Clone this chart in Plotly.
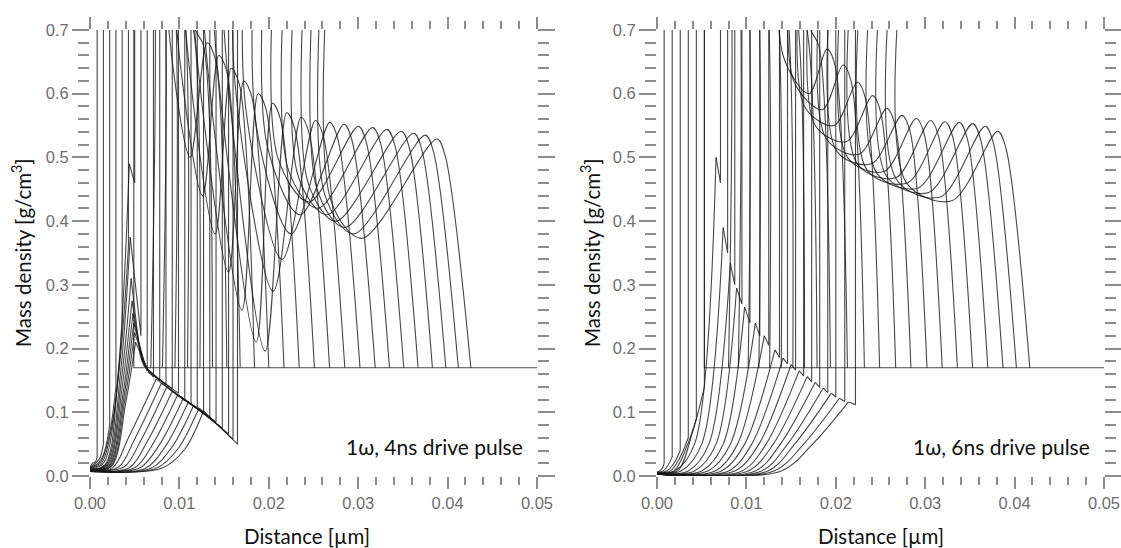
import plotly.graph_objects as go

# ================= DATA =================
# Left panel: 1ω, 4ns drive pulse  (24 time snapshots)
L_x_init = 0.0049          # initial foam interface
L_y_foam = 0.17            # undisturbed foam density
L_y0 = [0.014,0.013,0.013,0.012,0.012,0.011,0.011,0.010,0.010,0.010,0.009,0.009,
        0.009,0.009,0.008,0.008,0.008,0.008,0.008,0.008,0.007,0.007,0.007,0.007]
L_xr = [0.0003,0.0006,0.0009,0.0011,0.0013,0.0015,0.0017,0.0018,0.0019,0.0020,0.0021,0.0022,
        0.0023,0.0024,0.0026,0.0032,0.0038,0.0044,0.0050,0.0056,0.0062,0.0068,0.0074,0.0080]
L_yr = [0.020,0.020,0.020,0.020,0.020,0.020,0.018,0.018,0.017,0.017,0.016,0.016,
        0.015,0.015,0.014,0.014,0.014,0.013,0.013,0.013,0.012,0.012,0.012,0.012]
L_xm = [0.0006,0.0011,0.0016,0.0021,0.0027,0.0032,0.0032,0.0034,0.0035,0.0036,0.0037,0.0038,
        0.0039,0.0040,0.0043,0.0050,0.0057,0.0064,0.0071,0.0078,0.0085,0.0092,0.0099,0.0106]
L_ym = [0.022,0.028,0.037,0.060,0.100,0.160,0.170,0.160,0.150,0.140,0.130,0.125,
        0.120,0.115,0.060,0.058,0.056,0.054,0.052,0.050,0.048,0.046,0.044,0.042]
L_xpk = [None]*6 + [0.0044,0.0045,0.0046,0.0047,0.0048,0.0049,0.0050,0.0051] + [None]*10
L_ypk = [None]*6 + [0.49,0.375,0.31,0.275,0.255,0.24,0.225,0.21] + [None]*10
L_xn = [None]*8 + [0.0056,0.0058,0.0060,0.0062,0.0064,0.0066,
                   0.0074,0.0080,0.0086,0.0092,0.0098,0.0104,0.0110,0.0116,0.0122,0.0127]
L_yn = [None]*8 + [0.190,0.180,0.174,0.170,0.166,0.162,
                   0.152,0.146,0.140,0.133,0.127,0.121,0.116,0.111,0.107,0.102]
L_xa = [0.0008,0.0015,0.0022,0.0029,0.0036,0.0043,0.0050,0.0057,0.0064,0.0071,0.0078,0.0085,
        0.0092,0.0099,0.0106,0.0113,0.0120,0.0127,0.0134,0.0141,0.0148,0.0155,0.0160,0.0165]
L_foot = [0.030,0.050,0.080,0.140,0.240,0.360,0.460,0.220,0.165,0.155,0.150,0.143,
          0.137,0.130,0.118,0.112,0.106,0.100,0.092,0.085,0.075,0.066,0.058,0.050]
L_xb = [0.0053,0.0057,0.0061,0.0066,0.0072,0.0079,0.0087,0.0096,0.0106,0.0116,0.0127,0.0138,
        0.0150,0.0162,0.0174,0.0186,0.0198,0.0210,0.0222,0.0233,0.0244,0.0254,0.0263,0.0270]
L_aw = [None]*6 + [0.72,0.72,0.72,0.72,0.72,0.72,0.70,0.62,0.58,0.55,0.52,0.50,0.48,0.47,0.46,0.45,0.44,0.43]
L_xt = [None]*6 + [0.0112,0.0126,0.0140,0.0155,0.0170,0.0186,0.0196,0.0205,0.0215,0.0225,0.0235,0.0245,
                   0.0255,0.0265,0.0275,0.0285,0.0295,0.0304]
L_yt = [None]*6 + [0.50,0.44,0.38,0.32,0.26,0.21,0.196,0.29,0.34,0.38,0.41,0.43,0.42,0.41,0.40,0.39,0.38,0.373]
L_xp = [0.0058,0.0070,0.0082,0.0094,0.0106,0.0118,0.0131,0.0144,0.0158,0.0172,0.0188,0.0204,
        0.0220,0.0236,0.0252,0.0268,0.0284,0.0300,0.0316,0.0332,0.0348,0.0362,0.0375,0.0388]
L_yp = [0.95,0.90,0.84,0.78,0.73,0.70,0.68,0.66,0.64,0.62,0.60,0.585,
        0.57,0.563,0.558,0.555,0.552,0.549,0.547,0.544,0.541,0.538,0.535,0.529]
L_xs = [0.0068,0.0081,0.0095,0.0109,0.0123,0.0137,0.0153,0.0168,0.0184,0.0200,0.0217,0.0234,
        0.0251,0.0268,0.0285,0.0302,0.0319,0.0335,0.0351,0.0367,0.0383,0.0398,0.0412,0.0426]

# Right panel: 1ω, 6ns drive pulse  (23 time snapshots)
R_x_init = 0.0053
R_y_foam = 0.17
R_y0 = [0.006,0.006,0.006,0.005,0.005,0.005,0.005,0.005,0.004,0.004,0.004,0.004,
        0.004,0.004,0.004,0.003,0.003,0.003,0.003,0.003,0.003,0.003,0.003]
R_xr = [0.0003,0.0007,0.0011,0.0015,0.0019,0.0023,0.0020,0.0027,0.0035,0.0042,0.0050,0.0057,
        0.0065,0.0072,0.0080,0.0087,0.0095,0.0102,0.0110,0.0117,0.0124,0.0131,0.0139]
R_yr = [0.008,0.008,0.008,0.008,0.008,0.008,0.008,0.008,0.008,0.008,0.008,0.008,
        0.008,0.008,0.008,0.008,0.008,0.008,0.008,0.008,0.008,0.008,0.008]
R_xm = [0.0006,0.0012,0.0019,0.0026,0.0033,0.0040,0.0042,0.0050,0.0058,0.0066,0.0074,0.0082,
        0.0090,0.0098,0.0106,0.0114,0.0122,0.0130,0.0138,0.0146,0.0154,0.0164,0.0174]
R_ym = [0.012,0.016,0.020,0.030,0.045,0.070,0.050,0.050,0.050,0.050,0.050,0.050,
        0.050,0.050,0.050,0.050,0.050,0.050,0.050,0.050,0.050,0.050,0.050]
R_xpk = [None]*6 + [0.0066,0.0074,0.0082,0.0089,0.0098,0.0110,0.0120,0.0132,0.0141,0.0150,0.0159,
                    0.0168,0.0177,0.0186,0.0195,0.0204,0.0214]
R_ypk = [None]*6 + [0.50,0.39,0.334,0.295,0.265,0.24,0.22,0.198,0.185,0.175,0.165,
                    0.156,0.147,0.138,0.130,0.122,0.116]
R_xn = [None]*23
R_yn = [None]*23
R_xa = [0.0008,0.0017,0.0026,0.0035,0.0044,0.0053,0.0071,0.0079,0.0087,0.0095,0.0104,0.0115,
        0.0125,0.0137,0.0146,0.0155,0.0164,0.0173,0.0182,0.0191,0.0200,0.0210,0.0222]
R_foot = [0.020,0.030,0.040,0.060,0.090,0.140,0.460,0.350,0.300,0.270,0.240,0.220,
          0.205,0.186,0.176,0.166,0.157,0.148,0.139,0.131,0.124,0.117,0.112]
R_xb = [0.0060,0.0064,0.0069,0.0075,0.0082,0.0090,0.0099,0.0109,0.0119,0.0130,0.0141,0.0153,
        0.0165,0.0177,0.0189,0.0201,0.0213,0.0224,0.0235,0.0246,0.0257,0.0268,0.0279]
R_aw = [None]*10 + [0.66,0.62,0.58,0.55,0.53,0.51,0.50,0.49,0.48,0.475,0.47,0.465,0.46]
R_xt = [None]*10 + [0.0170,0.0185,0.0198,0.0212,0.0226,0.0240,0.0254,0.0267,0.0280,0.0292,0.0304,0.0317,0.0330]
R_yt = [None]*10 + [0.60,0.575,0.55,0.525,0.505,0.49,0.478,0.468,0.46,0.452,0.445,0.438,0.432]
R_xp = [0.0068,0.0078,0.0088,0.0099,0.0110,0.0122,0.0134,0.0146,0.0158,0.0172,0.0190,0.0208,
        0.0224,0.0241,0.0257,0.0274,0.0290,0.0306,0.0322,0.0338,0.0353,0.0367,0.0381]
R_yp = [0.98,0.95,0.92,0.89,0.86,0.82,0.79,0.76,0.73,0.70,0.67,0.645,
        0.618,0.597,0.577,0.566,0.561,0.558,0.556,0.555,0.553,0.549,0.541]
R_xs = [0.0080,0.0091,0.0102,0.0114,0.0126,0.0139,0.0152,0.0165,0.0179,0.0194,0.0213,0.0232,
        0.0249,0.0267,0.0284,0.0302,0.0319,0.0336,0.0353,0.0370,0.0387,0.0402,0.0417]

X_TICKS = [0.00, 0.01, 0.02, 0.03, 0.04, 0.05]
Y_TICKS = [0.0, 0.1, 0.2, 0.3, 0.4, 0.5, 0.6, 0.7]
LABELS = ["1ω, 4ns drive pulse", "1ω, 6ns drive pulse"]

# ================= FIGURE =================
LINE = dict(color="rgba(25,25,25,0.80)", width=1.1)
SPL = dict(LINE, shape="spline", smoothing=0.9)
TOP = 0.9   # off-scale (dense shell) level, clipped by the axis range
fig = go.Figure()


def add_panel(xa_ref, ya_ref, P):
    (x_init, y_foam, y0, xr, yr, xm, ym, xpk, ypk, xn, yn, xa, foot,
     xb, aw, xt, yt, xp, yp, xs) = P
    common = dict(mode="lines", xaxis=xa_ref, yaxis=ya_ref, showlegend=False, hoverinfo="skip")
    # initial state (dense layer + undisturbed foam)
    fig.add_trace(go.Scatter(x=[0, x_init, x_init, X_TICKS[-1]], y=[TOP, TOP, y_foam, y_foam],
                             line=LINE, **common))
    sx, sy = [], []   # straight pieces: band segment + ablation-front wall
    for k in range(len(xa)):
        # smooth rise of the ablated plasma up to its first corner
        fx = [0, xr[k], xm[k]]
        fy = [y0[k], yr[k], ym[k]]
        corner = []
        if xpk[k] is not None:
            corner.append((xpk[k], ypk[k]))
        if xn[k] is not None:
            corner.append((xn[k], yn[k]))
        corner.append((xa[k], foot[k]))
        fx.append(corner[0][0]); fy.append(corner[0][1])
        fig.add_trace(go.Scatter(x=fx, y=fy, line=SPL, **common))
        for (cx, cy) in corner:
            sx.append(cx); sy.append(cy)
        sx += [xa[k], None]
        sy += [TOP, None]
        # shell rear wall, rarefaction, shocked foam, shock front (smooth)
        hx = [xb[k]]
        hy = [TOP]
        if aw[k] is not None:
            hx += [xb[k], xt[k]]
            hy += [aw[k], yt[k]]
        hx += [xp[k], xp[k] + 0.0009, xs[k]]
        hy += [yp[k], yp[k] - 0.025, y_foam]
        fig.add_trace(go.Scatter(x=hx, y=hy, line=SPL, **common))
    fig.add_trace(go.Scatter(x=sx, y=sy, line=LINE, **common))


add_panel("x", "y", (L_x_init, L_y_foam, L_y0, L_xr, L_yr, L_xm, L_ym, L_xpk, L_ypk, L_xn, L_yn,
                     L_xa, L_foot, L_xb, L_aw, L_xt, L_yt, L_xp, L_yp, L_xs))
add_panel("x2", "y2", (R_x_init, R_y_foam, R_y0, R_xr, R_yr, R_xm, R_ym, R_xpk, R_ypk, R_xn, R_yn,
                       R_xa, R_foot, R_xb, R_aw, R_xt, R_yt, R_xp, R_yp, R_xs))

TICKC = "#8c8c8c"
tickfont = dict(family="Liberation Sans", size=16.5, color="#6e6e6e")
xcommon = dict(range=[X_TICKS[0], X_TICKS[-1]], tickvals=X_TICKS, ticktext=[f"{v:.2f}" for v in X_TICKS],
               ticks="outside", ticklen=12, tickwidth=2.4, tickcolor=TICKC, mirror="ticks",
               showline=False, showgrid=False, zeroline=False, tickfont=tickfont, automargin=False,
               minor=dict(ticks="outside", dtick=0.002, tick0=0, ticklen=8, tickwidth=2.4,
                          tickcolor=TICKC, showgrid=False))
ycommon = dict(range=[Y_TICKS[0], Y_TICKS[-1]], tickvals=Y_TICKS, ticktext=[f"{v:.1f}" for v in Y_TICKS],
               ticks="outside", ticklen=17, tickwidth=2.4, tickcolor=TICKC, mirror="ticks",
               showline=False, showgrid=False, zeroline=False, tickfont=tickfont, automargin=False,
               minor=dict(ticks="outside", dtick=0.02, tick0=0, ticklen=11, tickwidth=2.4,
                          tickcolor=TICKC, showgrid=False))

fig.update_layout(
    width=1121, height=548, margin=dict(l=0, r=0, t=0, b=0),
    paper_bgcolor="white", plot_bgcolor="white", showlegend=False,
    xaxis=dict(xcommon, domain=[90 / 1121, 537 / 1121], anchor="y"),
    yaxis=dict(ycommon, domain=[72 / 548, 518 / 548], anchor="x"),
    xaxis2=dict(xcommon, domain=[657 / 1121, 1104 / 1121], anchor="y2"),
    yaxis2=dict(ycommon, domain=[72 / 548, 518 / 548], anchor="x2"),
)

titlefont = dict(family="Lato", size=20.5, color="#111111")
ann = []
for xr_, yr_, cx, lab in [("x", "y", 307 / 1121, LABELS[0]), ("x2", "y2", 881 / 1121, LABELS[1])]:
    ann.append(dict(text="Distance [µm]", xref="paper", yref="paper", x=cx, y=12 / 548,
                    xanchor="center", yanchor="middle", showarrow=False, font=titlefont))
    ann.append(dict(text=lab, xref=xr_, yref=yr_, x=0.0487, y=0.046, xanchor="right",
                    yanchor="middle", showarrow=False, font=dict(family="Lato", size=21, color="#111111")))
for cx in [22 / 1121, 591 / 1121]:
    ann.append(dict(text="Mass density [g/cm<sup>3</sup>]", xref="paper", yref="paper", x=cx,
                    y=295 / 548, textangle=-90, xanchor="center", yanchor="middle",
                    showarrow=False, font=titlefont))
fig.update_layout(annotations=ann)

fig.write_html("out.html")
